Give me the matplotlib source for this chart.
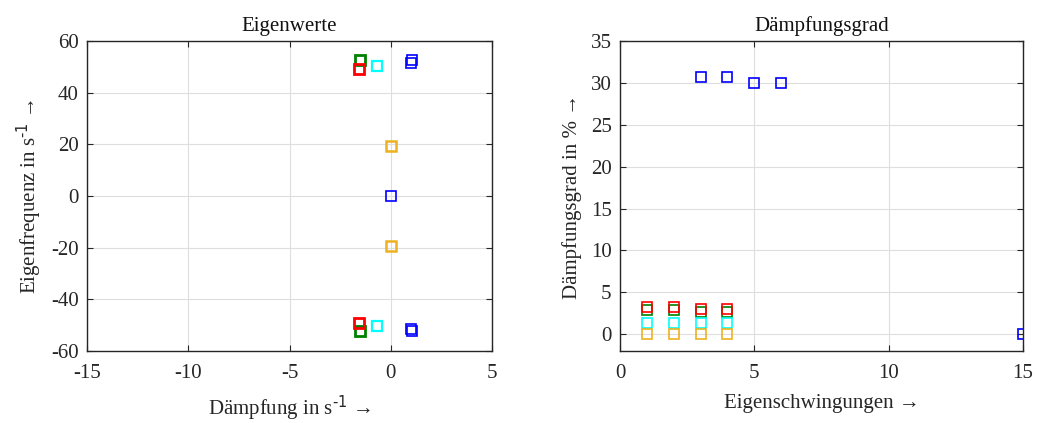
import numpy as np
import matplotlib.pyplot as plt

plt.rcParams['font.family'] = ['Liberation Serif', 'DejaVu Serif']
plt.rcParams['mathtext.default'] = 'regular'
plt.rcParams['axes.unicode_minus'] = False

# Eigenwerte (Realteil, Imaginärteil)
gruen_re = [-1.54, -1.54]
gruen_im = [52.6, -52.2]
rot_re = [-1.58, -1.58]
rot_im = [49.3, -49.0]
cyan_re = [-0.68, -0.68]
cyan_im = [50.2, -50.2]
blau_re = [1.0, 1.05, 1.0, 1.05, 0.0]
blau_im = [51.6, 52.6, -51.6, -52.4, 0.0]
orange_re = [0.0, 0.0]
orange_im = [19.4, -19.4]

# Dämpfungsgrad in %
nr_4 = [1, 2, 3, 4]
rot_d = [3.25, 3.25, 3.0, 3.0]
gruen_d = [2.9, 2.9, 2.7, 2.7]
cyan_d = [1.35, 1.35, 1.35, 1.35]
orange_d = [0, 0, 0, 0]
blau_nr = [3, 4, 5, 6, 15]
blau_d = [30.7, 30.7, 30.0, 30.0, 0.0]

c_blau = '#0000FF'
c_gruen = '#008000'
c_rot = '#FF0000'
c_cyan = '#00FFFF'
c_orange = '#EDB120'
c_achse = '#262626'

fs = 15

fig = plt.figure(figsize=(10.38, 4.23), dpi=100)
ax1 = fig.add_axes([87 / 1038, 72 / 423, 405 / 1038, 310 / 423])
ax2 = fig.add_axes([620 / 1038, 72 / 423, 403 / 1038, 310 / 423])


def stil(ax):
    ax.grid(True, color='#dedede', linewidth=0.8)
    ax.set_axisbelow(True)
    ax.tick_params(direction='in', top=True, right=True, length=4,
                   width=0.8, colors=c_achse, labelsize=fs)
    ax.tick_params(axis='x', pad=9)
    ax.tick_params(axis='y', pad=6)
    for s in ax.spines.values():
        s.set_color(c_achse)
        s.set_linewidth(1.0)


ms = 6.5
ax1.plot(gruen_re, gruen_im, 's', ms=ms, mfc='none', mec=c_gruen, mew=2)
ax1.plot(rot_re, rot_im, 's', ms=ms, mfc='none', mec=c_rot, mew=2)
ax1.plot(cyan_re, cyan_im, 's', ms=ms, mfc='none', mec=c_cyan, mew=1.6)
ax1.plot(blau_re, blau_im, 's', ms=ms, mfc='none', mec=c_blau, mew=1.2)
ax1.plot(orange_re, orange_im, 's', ms=ms, mfc='none', mec=c_orange, mew=1.8)
ax1.set_xlim(-15, 5)
ax1.set_ylim(-60, 60)
ax1.set_xticks(np.arange(-15, 6, 5))
ax1.set_yticks(np.arange(-60, 61, 20))
ax1.set_title('Eigenwerte', fontsize=fs, color='#111111', pad=7)
ax1.set_xlabel('Dämpfung in s$^{\\text{-1}}$ →', fontsize=fs, color=c_achse, labelpad=8)
ax1.set_ylabel('Eigenfrequenz in s$^{\\text{-1}}$ →', fontsize=fs, color=c_achse, labelpad=6)
stil(ax1)

ax2.plot(nr_4, gruen_d, 's', ms=ms, mfc='none', mec=c_gruen, mew=1.2)
ax2.plot(nr_4, rot_d, 's', ms=ms, mfc='none', mec=c_rot, mew=1.2)
ax2.plot(nr_4, cyan_d, 's', ms=ms, mfc='none', mec=c_cyan, mew=1.2)
ax2.plot(nr_4, orange_d, 's', ms=ms, mfc='none', mec=c_orange, mew=1.2)
ax2.plot(blau_nr, blau_d, 's', ms=ms, mfc='none', mec=c_blau, mew=1.2)
ax2.set_xlim(0, 15)
ax2.set_ylim(-2, 35)
ax2.set_xticks(np.arange(0, 16, 5))
ax2.set_yticks(np.arange(0, 36, 5))
ax2.set_title('Dämpfungsgrad', fontsize=fs, color='#111111', pad=7)
ax2.set_xlabel('Eigenschwingungen →', fontsize=fs, color=c_achse, labelpad=8)
ax2.set_ylabel('Dämpfungsgrad in % →', fontsize=fs, color=c_achse, labelpad=6)
stil(ax2)

fig.savefig('out.png', dpi=100)
